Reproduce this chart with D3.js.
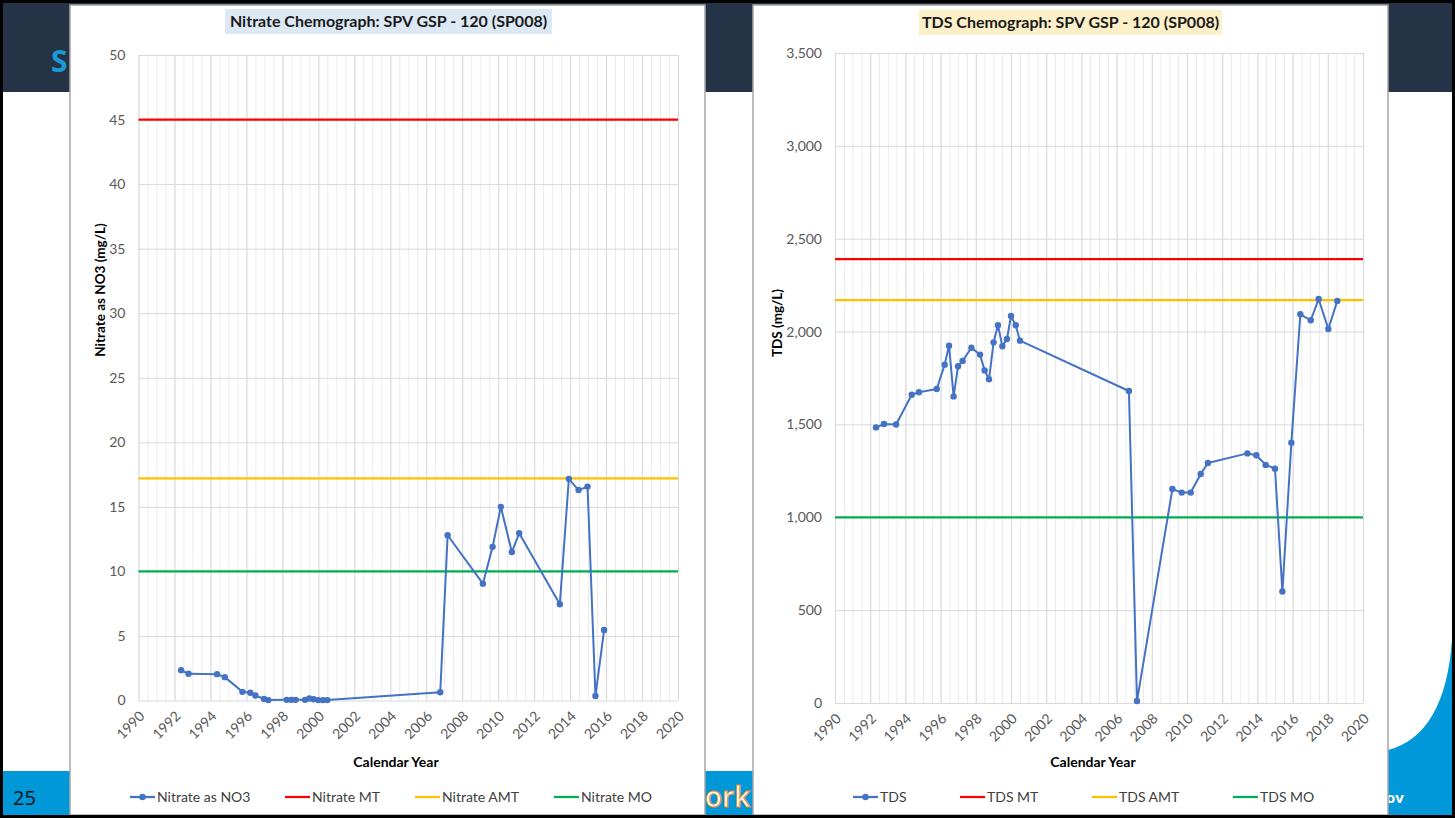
<!DOCTYPE html>
<html><head><meta charset="utf-8">
<script src="https://cdn.jsdelivr.net/npm/d3@7"></script>
<style>body{margin:0;background:#fff;} svg{display:block;}</style>
</head><body><svg id="c" width="1455" height="818"></svg>
<script>
// ---------- data ----------
const yearTicks = d3.range(1990, 2021, 2);

const nitrateYears = [1992.37, 1992.78, 1994.37, 1994.8, 1995.78, 1996.22, 1996.5, 1996.98, 1997.22,
  1998.24, 1998.5, 1998.74, 1999.26, 1999.5, 1999.74, 2000.0, 2000.26, 2000.5,
  2006.78, 2007.19, 2009.15, 2009.69, 2010.15, 2010.76, 2011.17, 2013.43, 2013.93, 2014.47, 2014.97, 2015.41, 2015.89];
const nitrateValues = [2.35, 2.07, 2.04, 1.81, 0.67, 0.6, 0.39, 0.12, 0.03,
  0.05, 0.05, 0.05, 0.05, 0.15, 0.1, 0.03, 0.03, 0.03,
  0.64, 12.8, 9.05, 11.9, 15.0, 11.5, 12.96, 7.46, 17.17, 16.3, 16.57, 0.35, 5.46];
const nitrateTicks = d3.range(0, 51, 5);
const nitrateThresholds = [45, 17.2, 10];           // MT, AMT, MO
const nitrateLegend = ["Nitrate as NO3", "Nitrate MT", "Nitrate AMT", "Nitrate MO"];

const tdsYears = [1992.33, 1992.78, 1993.47, 1994.36, 1994.77, 1995.78, 1996.23, 1996.48, 1996.74, 1996.99,
  1997.25, 1997.75, 1998.24, 1998.5, 1998.75, 1999.01, 1999.26, 1999.51, 1999.77, 2000.0, 2000.27, 2000.51,
  2006.7, 2007.16, 2009.17, 2009.7, 2010.21, 2010.78, 2011.19, 2013.43, 2013.94, 2014.47, 2015.0,
  2015.42, 2015.93, 2016.44, 2017.03, 2017.48, 2018.03, 2018.54];
const tdsValues = [1484, 1502, 1500, 1660, 1673, 1691, 1822, 1924, 1651, 1813,
  1842, 1913, 1876, 1791, 1743, 1942, 2034, 1921, 1960, 2084, 2034, 1951,
  1680, 11, 1152, 1133, 1133, 1233, 1292, 1344, 1334, 1282, 1262,
  600, 1402, 2093, 2061, 2175, 2014, 2165];
const tdsTicks = d3.range(0, 3501, 500);
const tdsThresholds = [2390, 2170, 1000];           // MT, AMT, MO
const tdsLegend = ["TDS", "TDS MT", "TDS AMT", "TDS MO"];

const nitrateTitle = "Nitrate Chemograph: SPV GSP - 120 (SP008)";
const tdsTitle = "TDS Chemograph: SPV GSP - 120 (SP008)";

// ---------- styles ----------
const FONT = "Lato, Carlito, Calibri, sans-serif";
const SERIES = "#4472c4";
const THR_COLORS = ["#ff0000", "#ffc000", "#00b050"];

const svg = d3.select("#c");

// ---------- slide background ----------
svg.append("rect").attr("x", 0).attr("y", 0).attr("width", 1455).attr("height", 818).attr("fill", "#fff");
svg.append("rect").attr("x", 3).attr("y", 3).attr("width", 1449).attr("height", 89).attr("fill", "#243446");
svg.append("rect").attr("x", 3).attr("y", 771).attr("width", 1449).attr("height", 44).attr("fill", "#0098d8");
svg.append("path").attr("d", "M1388,750 Q1445,735 1452,640 L1452,815 L1388,815 Z").attr("fill", "#0098d8");
svg.append("text").attr("x", 51).attr("y", 72).attr("font-family", "'Open Sans', sans-serif")
  .attr("font-weight", 700).attr("font-size", 30).attr("fill", "#1a9ad8").text("S");
svg.append("text").attr("x", 13).attr("y", 805).attr("font-family", "'Open Sans', sans-serif")
  .attr("font-size", 20).attr("fill", "#111").text("25");
svg.append("text").attr("x", 705).attr("y", 807).attr("font-family", "'Open Sans', sans-serif")
  .attr("font-weight", 600).attr("font-size", 28).attr("fill", "#fff")
  .attr("stroke", "#f08a24").attr("stroke-width", 1).text("ork");
svg.append("text").attr("x", 1386).attr("y", 803).attr("font-family", "'Open Sans', sans-serif")
  .attr("font-weight", 700).attr("font-size", 15).attr("fill", "#fff").text("ov");

// ---------- chart drawer ----------
function drawChart(cfg) {
  const g = svg.append("g");
  g.append("rect").attr("x", cfg.frame[0]).attr("y", cfg.frame[1])
    .attr("width", cfg.frame[2] - cfg.frame[0]).attr("height", cfg.frame[3] - cfg.frame[1])
    .attr("fill", "#fff").attr("stroke", "#a6a6a6").attr("stroke-width", 1.5);

  const x = d3.scaleLinear().domain([1990, 2020]).range(cfg.xr);
  const y = d3.scaleLinear().domain([0, cfg.yMax]).range(cfg.yr);
  const w = cfg.xr[1] - cfg.xr[0], h = cfg.yr[0] - cfg.yr[1];

  // minor vertical gridlines
  g.append("g").attr("transform", `translate(0,${cfg.yr[1]})`)
    .call(d3.axisTop(x).tickValues(d3.range(1990, 2020.01, 0.5)).tickSize(-h).tickFormat(""))
    .call(s => s.select(".domain").remove())
    .call(s => s.selectAll("line").attr("stroke", "#ebebeb").attr("stroke-width", 1));
  // major vertical gridlines
  g.append("g").attr("transform", `translate(0,${cfg.yr[1]})`)
    .call(d3.axisTop(x).tickValues(yearTicks).tickSize(-h).tickFormat(""))
    .call(s => s.select(".domain").remove())
    .call(s => s.selectAll("line").attr("stroke", "#d9d9d9").attr("stroke-width", 1));
  // horizontal gridlines
  g.append("g").attr("transform", `translate(${cfg.xr[0]},0)`)
    .call(d3.axisLeft(y).tickValues(cfg.yTicks).tickSize(-w).tickFormat(""))
    .call(s => s.select(".domain").remove())
    .call(s => s.selectAll("line").attr("stroke", "#d9d9d9").attr("stroke-width", 1));

  // y tick labels
  g.append("g").attr("transform", `translate(${cfg.xr[0]},0)`)
    .call(d3.axisLeft(y).tickValues(cfg.yTicks).tickSize(0).tickPadding(13).tickFormat(cfg.fmt))
    .call(s => s.select(".domain").remove())
    .call(s => s.selectAll("text").attr("font-family", FONT).attr("font-size", 14).attr("fill", "#595959"));

  // x tick labels (rotated)
  g.append("g").attr("transform", `translate(0,${cfg.yr[0]})`)
    .call(d3.axisBottom(x).tickValues(yearTicks).tickSize(0).tickFormat(d3.format("d")))
    .call(s => s.select(".domain").remove())
    .call(s => s.selectAll("text").attr("font-family", FONT).attr("font-size", 14).attr("fill", "#595959")
      .attr("text-anchor", "end").attr("dy", "0.35em").attr("y", 0)
      .attr("transform", "translate(3,13) rotate(-45)"));

  // threshold lines
  cfg.thr.forEach((v, i) => {
    g.append("line").attr("x1", cfg.xr[0]).attr("x2", cfg.xr[1]).attr("y1", y(v)).attr("y2", y(v))
      .attr("stroke", THR_COLORS[i]).attr("stroke-width", 2.25);
  });

  // series
  const pts = cfg.years.map((yr, i) => [yr, cfg.vals[i]]);
  g.append("path").datum(pts).attr("fill", "none").attr("stroke", SERIES).attr("stroke-width", 2)
    .attr("stroke-linejoin", "round")
    .attr("d", d3.line().x(d => x(d[0])).y(d => y(d[1])));
  g.selectAll("circle.pt").data(pts).join("circle").attr("class", "pt")
    .attr("cx", d => x(d[0])).attr("cy", d => y(d[1])).attr("r", 3.2).attr("fill", SERIES);

  // title
  g.append("rect").attr("x", cfg.titleBox[0]).attr("y", cfg.titleBox[1])
    .attr("width", cfg.titleBox[2] - cfg.titleBox[0]).attr("height", cfg.titleBox[3] - cfg.titleBox[1])
    .attr("fill", cfg.titleFill);
  g.append("text").attr("x", (cfg.titleBox[0] + cfg.titleBox[2]) / 2).attr("y", (cfg.titleBox[1] + cfg.titleBox[3]) / 2)
    .attr("dy", "0.35em").attr("text-anchor", "middle").attr("font-family", FONT).attr("font-weight", 700)
    .attr("font-size", 16).attr("fill", "#1a1a1a").text(cfg.title);

  // axis titles
  g.append("text").attr("transform", `translate(${cfg.yTitle[0]},${cfg.yTitle[1]}) rotate(-90)`)
    .attr("dy", "0.35em").attr("text-anchor", "middle").attr("font-family", FONT).attr("font-weight", 700)
    .attr("font-size", 13.5).attr("fill", "#000").text(cfg.yLabel);
  g.append("text").attr("x", cfg.xTitle[0]).attr("y", cfg.xTitle[1]).attr("dy", "0.35em")
    .attr("text-anchor", "middle").attr("font-family", FONT).attr("font-weight", 700)
    .attr("font-size", 14).attr("fill", "#000").text("Calendar Year");

  // legend
  const legColors = [SERIES].concat(THR_COLORS);
  cfg.legend.forEach((name, i) => {
    const lx = cfg.legX[i], ly = 797;
    g.append("line").attr("x1", lx).attr("x2", lx + 25).attr("y1", ly).attr("y2", ly)
      .attr("stroke", legColors[i]).attr("stroke-width", 2.25);
    if (i === 0) g.append("circle").attr("cx", lx + 12.5).attr("cy", ly).attr("r", 3.2).attr("fill", SERIES);
    g.append("text").attr("x", lx + 27).attr("y", ly).attr("dy", "0.35em").attr("font-family", FONT)
      .attr("font-size", 14).attr("fill", "#404040").text(name);
  });
}

drawChart({
  frame: [70, 5, 705, 815], xr: [138.5, 678], yr: [700.5, 55], yMax: 50, yTicks: nitrateTicks,
  fmt: d3.format("d"), thr: nitrateThresholds, years: nitrateYears, vals: nitrateValues,
  titleBox: [225, 9, 552, 34], titleFill: "#dce8f4", title: nitrateTitle,
  yTitle: [100, 290], yLabel: "Nitrate as NO3 (mg/L)", xTitle: [396, 762],
  legend: nitrateLegend, legX: [130, 285, 415, 554]
});
drawChart({
  frame: [753, 5, 1388, 815], xr: [835, 1363], yr: [703, 53], yMax: 3500, yTicks: tdsTicks,
  fmt: d3.format(","), thr: tdsThresholds, years: tdsYears, vals: tdsValues,
  titleBox: [919, 10, 1222, 35], titleFill: "#fdf0c9", title: tdsTitle,
  yTitle: [777, 323], yLabel: "TDS (mg/L)", xTitle: [1093, 762],
  legend: tdsLegend, legX: [853, 960, 1092, 1233]
});

// slide border
svg.append("rect").attr("x", 1.5).attr("y", 1.5).attr("width", 1452).attr("height", 815)
  .attr("fill", "none").attr("stroke", "#000").attr("stroke-width", 3);
</script>
</body></html>
